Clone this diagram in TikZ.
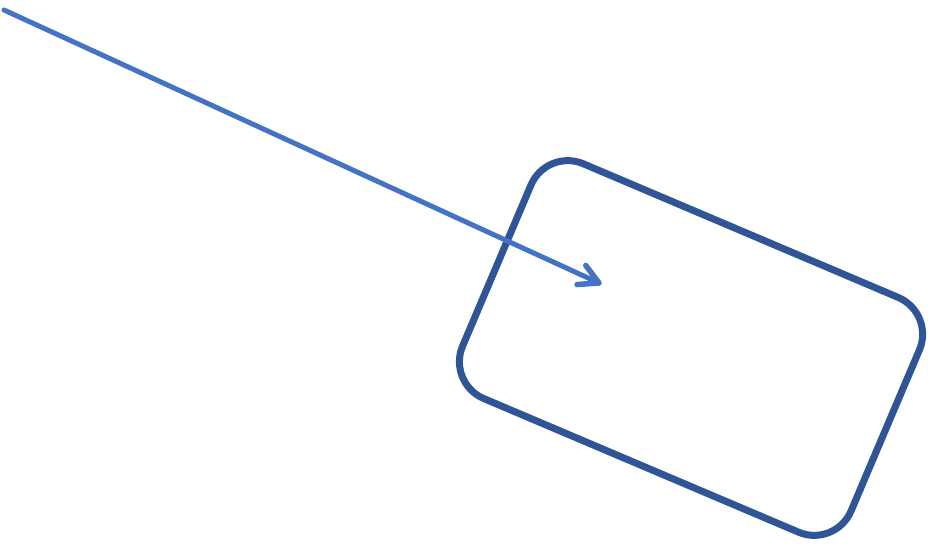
\documentclass[tikz,border=0pt]{standalone}
\usetikzlibrary{calc}
\definecolor{arrowblue}{HTML}{4472C4}
\definecolor{boxblue}{HTML}{2F5597}
\tikzset{
  tiltbox/.style={draw=boxblue, line width=7pt, rounded corners=40pt,
    minimum width=422pt, minimum height=255pt, inner sep=0pt, rotate=-23},
  pointer/.style={draw=arrowblue, line width=5pt, line cap=round, line join=round}
}
\begin{document}
\begin{tikzpicture}[x=1pt,y=1pt]
\useasboundingbox (0,0) rectangle (928,543);
\node[tiltbox] (box) at (691,195) {};
\coordinate (start) at (4,533);
\coordinate (tip) at (599,260);
\draw[pointer] (start) -- (tip);
\draw[pointer, line width=5.5pt] ($(tip)+(127:22)$) -- (tip) -- ($(tip)+(184:22)$);
\end{tikzpicture}
\end{document}
